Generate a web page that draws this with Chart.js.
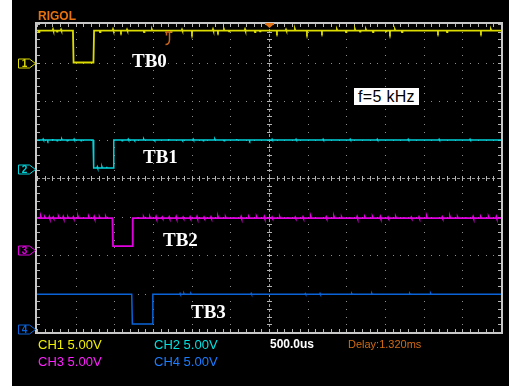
<!DOCTYPE html>
<html>
<head>
<meta charset="utf-8">
<title>RIGOL TB0-TB3</title>
<script src="https://cdn.jsdelivr.net/npm/chart.js@4.4.1/dist/chart.umd.min.js"></script>
<style>
  html, body { margin: 0; padding: 0; background: #fff; }
  #scope { position: relative; width: 509px; height: 388px; overflow: hidden; }
  #screen { position: absolute; left: 12px; top: 0; width: 497px; height: 386px; background: #000; }
  #screen canvas { display: block; }
  .lbl { position: absolute; white-space: nowrap; line-height: 1; }
  .ui { font-family: "Liberation Sans", Arial, sans-serif; }
  .tb { font-family: "Liberation Serif", "Times New Roman", serif; font-weight: bold; font-size: 19px; color: #fff; }
  #freq { left: 354px; top: 88px; width: 65px; height: 17px; background: #fff; color: #000;
          font-size: 16px; text-align: center; line-height: 17px; letter-spacing: 0.3px; }
</style>
</head>
<body>
<div id="scope">
  <div id="screen"><canvas id="scope-chart" width="497" height="386"></canvas></div>

  <div class="lbl ui" style="left:38px;top:9.5px;font-size:12px;font-weight:bold;color:#e8720e;">RIGOL</div>

  <div class="lbl tb" style="left:132px;top:51px;">TB0</div>
  <div class="lbl tb" style="left:143px;top:147px;">TB1</div>
  <div class="lbl tb" style="left:163px;top:230px;">TB2</div>
  <div class="lbl tb" style="left:191px;top:302px;">TB3</div>

  <div class="lbl ui" id="freq">f=5 kHz</div>

  <div class="lbl ui" style="left:38px;top:338px;font-size:13px;color:#f0f000;">CH1 5.00V</div>
  <div class="lbl ui" style="left:154px;top:338px;font-size:13px;color:#00e0e0;">CH2 5.00V</div>
  <div class="lbl ui" style="left:38px;top:355px;font-size:13px;color:#ff20ff;">CH3 5.00V</div>
  <div class="lbl ui" style="left:154px;top:355px;font-size:13px;color:#1a7cff;">CH4 5.00V</div>
  <div class="lbl ui" style="left:270px;top:338px;font-size:12px;font-weight:bold;color:#fff;">500.0us</div>
  <div class="lbl ui" style="left:348px;top:338.5px;font-size:11px;color:#d06a14;">Delay:1.320ms</div>
</div>

<script>
// Timebase: 500 us/div, 12 divisions, trigger at centre
const timeMin = -3000;
const timeMax = 3000;
const timeDiv = 500;

// Channels (5.00 V/div each)
const channelNames = ['CH1', 'CH2', 'CH3', 'CH4'];
const channelColors = ['#dcdc00', '#00d4dc', '#e000e0', '#0a64d8'];
const highLevel = [4.15, 3.75, 4.1, 4.55];   // V
const lowLevel = [0.0, 0.1, 0.45, 0.7];      // V
const pulseFall = [-2535, -2275, -2025, -1775]; // us
const pulseRise = [-2270, -2015, -1770, -1510]; // us

// Spikes riding on each trace: time (us) and excursion (V)
const ch1SpikeT = [-2974, -2793, -2741, -2689, -2185, -2017, -1914, -1836, -1616, -1513, -1267, -1125,
  -996, -724, -660, -582, -517, -310, -181, -116, 103, 220, 336, 491, 685, 879, 996, 1112, 1177,
  1254, 1345, 1513, 1564, 1629, 1720, 2185, 2302, 2741, 2870];
const ch1SpikeV = [-0.2, 0.15, -0.15, 0.12, -0.2, 0.15, -0.12, 0.12, -0.2, 0.12, -0.2, 0.12,
  -0.2, 0.15, -0.12, 0.15, -0.12, 0.15, -0.2, -0.12, -0.15, 0.12, 0.15, -0.2, -0.15, 0.12, -0.2, 0.15, -0.15,
  0.12, -0.2, -0.12, -0.2, 0.12, -0.2, -0.15, -0.2, -0.15, 0.12];
const ch2SpikeT = [-2920, -2860, -2800, -2740, -2680, -2610, -2520, -2430, -2220, -2160, -2100,
  -1900, -1820, -1740, -1620, -1480, -1300, -1120, -980, -850, -700, -580, -420, -250, 40, 350, 700,
  1050, 1400, 1800, 2200, 2600];
const ch2SpikeV = [0.1, -0.1, 0.1, -0.1, 0.1, -0.1, 0.1, -0.1, 0.15, 0.15, 0.15,
  -0.1, 0.1, -0.1, 0.1, -0.1, 0.1, -0.1, 0.1, -0.1, 0.1, -0.1, 0.1, -0.1, 0.08, 0.08, 0.08,
  0.08, 0.08, 0.08, 0.08, 0.08];
const ch3SpikeT = [-2950, -2900, -2840, -2790, -2720, -2660, -2600, -2530, -2470, -2400, -2330,
  -2260, -2190, -2110, -1700, -1620, -1540, -1460, -1380, -1290, -1200, -1110, -1020, -930, -840,
  -750, -660, -560, -460, -360, -260, -160, -60, 40, 140, 240, 340, 440, 540, 640, 740, 840, 940,
  1040, 1140, 1240, 1340, 1440, 1540, 1640, 1740, 1840, 1940, 2040, 2140, 2240, 2340, 2440, 2540,
  2640, 2740, 2840, 2940];
const ch3SpikeV = [0.15, 0.1, 0.15, 0.1, 0.12, 0.15, 0.1, 0.12, 0.15, 0.1, 0.12,
  0.15, 0.1, 0.12, 0.15, 0.1, 0.12, 0.15, 0.1, 0.12, 0.15, 0.1, 0.12, 0.15, 0.1,
  0.12, 0.15, 0.1, 0.12, 0.15, 0.1, 0.12, 0.15, 0.1, 0.12, 0.15, 0.1, 0.12, 0.15, 0.1, 0.12, 0.15, 0.1,
  0.12, 0.15, 0.1, 0.12, 0.15, 0.1, 0.12, 0.15, 0.1, 0.12, 0.15, 0.1, 0.12, 0.15, 0.1, 0.12,
  0.15, 0.1, 0.12, 0.15];
const ch4SpikeT = [-1150, -1100, -1010, -230, 470, 660, 820, 1070, 1330, 1820, 2090, 2710, 2850];
const ch4SpikeV = [0.1, 0.1, 0.08, 0.1, 0.08, 0.1, 0.08, 0.08, 0.1, 0.08, 0.1, 0.1, 0.08];

const spikeT = [ch1SpikeT, ch2SpikeT, ch3SpikeT, ch4SpikeT];
const spikeV = [ch1SpikeV, ch2SpikeV, ch3SpikeV, ch4SpikeV];

// Vertical position of each channel: top of screen in volts (8 div x 5 V visible)
const screenTopV = [5.0, 18.8, 29.3, 39.65];
const voltsPerDiv = 5;

function buildTrace(i) {
  const hi = highLevel[i], lo = lowLevel[i];
  const fall = pulseFall[i], rise = pulseRise[i];
  const level = t => (t > fall && t < rise) ? lo : hi;
  const pts = [
    { x: timeMin, y: hi },
    { x: fall, y: hi }, { x: fall + 8, y: lo },
    { x: rise, y: lo }, { x: rise + 8, y: hi },
    { x: timeMax, y: hi }
  ];
  spikeT[i].forEach((t, k) => {
    const base = level(t);
    pts.push({ x: t - 5, y: base }, { x: t, y: base + spikeV[i][k] }, { x: t + 5, y: base });
  });
  pts.sort((a, b) => a.x - b.x);
  return pts;
}

const datasets = channelNames.map((name, i) => ({
  label: name,
  data: buildTrace(i),
  yAxisID: 'y' + (i + 1),
  borderColor: channelColors[i],
  borderWidth: i === 0 ? 1.8 : (i === 2 ? 1.8 : 1.5),
  pointRadius: 0,
  tension: 0,
  fill: false
}));

const scales = {
  x: { type: 'linear', min: timeMin, max: timeMax, display: false }
};
channelNames.forEach((name, i) => {
  scales['y' + (i + 1)] = {
    type: 'linear', display: false,
    max: screenTopV[i], min: screenTopV[i] - 8 * voltsPerDiv
  };
});

// Graticule: border, dotted division lines, centre cross with minor ticks
const graticule = {
  id: 'graticule',
  beforeDatasetsDraw(chart) {
    const ctx = chart.ctx;
    const xs = chart.scales.x, ys = chart.scales.y1;
    const a = chart.chartArea;
    const minorX = timeDiv / 5;
    const minorY = voltsPerDiv / 5;
    ctx.save();

    // dotted grid on each division
    ctx.fillStyle = '#8c8c8c';
    for (let t = timeMin + timeDiv; t < timeMax; t += timeDiv) {
      if (t === 0) continue;
      const px = Math.round(xs.getPixelForValue(t));
      for (let v = ys.max; v >= ys.min; v -= minorY) {
        ctx.fillRect(px, Math.round(ys.getPixelForValue(v)), 1, 1);
      }
    }
    for (let d = 1; d < 8; d++) {
      if (d === 4) continue;
      const py = Math.round(ys.getPixelForValue(ys.max - d * voltsPerDiv));
      for (let t = timeMin; t <= timeMax; t += minorX) {
        ctx.fillRect(Math.round(xs.getPixelForValue(t)), py, 1, 1);
      }
    }

    // centre cross
    const cx = Math.round(xs.getPixelForValue(0));
    const cy = Math.round(ys.getPixelForValue(ys.max - 4 * voltsPerDiv));
    ctx.strokeStyle = '#9a9a9a';
    ctx.lineWidth = 1;
    ctx.setLineDash([3, 2]);
    ctx.beginPath();
    ctx.moveTo(cx + 0.5, a.top); ctx.lineTo(cx + 0.5, a.bottom);
    ctx.moveTo(a.left, cy + 0.5); ctx.lineTo(a.right, cy + 0.5);
    ctx.stroke();
    ctx.setLineDash([]);
    ctx.strokeStyle = '#b4b4b4';
    ctx.beginPath();
    for (let t = timeMin; t <= timeMax; t += minorX) {
      const px = Math.round(xs.getPixelForValue(t)) + 0.5;
      ctx.moveTo(px, cy - 2); ctx.lineTo(px, cy + 3);
      ctx.moveTo(px, a.top); ctx.lineTo(px, a.top + 3);
      ctx.moveTo(px, a.bottom); ctx.lineTo(px, a.bottom - 3);
    }
    for (let v = ys.max; v >= ys.min - 0.01; v -= minorY) {
      const py = Math.round(ys.getPixelForValue(v)) + 0.5;
      ctx.moveTo(cx - 2, py); ctx.lineTo(cx + 3, py);
      ctx.moveTo(a.left, py); ctx.lineTo(a.left + 3, py);
      ctx.moveTo(a.right, py); ctx.lineTo(a.right - 3, py);
    }
    ctx.stroke();

    // frame
    ctx.strokeStyle = '#c8c8c8';
    ctx.lineWidth = 2;
    ctx.strokeRect(a.left - 1, a.top - 1, a.right - a.left + 2, a.bottom - a.top + 2);
    ctx.restore();
  },
  afterDatasetsDraw(chart) {
    const ctx = chart.ctx;
    const xs = chart.scales.x;
    const a = chart.chartArea;
    ctx.save();

    // ground markers on the left edge
    ctx.font = 'bold 10px "Liberation Sans", Arial, sans-serif';
    ctx.textBaseline = 'middle';
    ctx.textAlign = 'center';
    channelNames.forEach((name, i) => {
      const y = Math.round(chart.scales['y' + (i + 1)].getPixelForValue(0)) + 0.5;
      const x0 = 6.5, x1 = 17.5, x2 = 23.5;
      ctx.strokeStyle = channelColors[i];
      ctx.lineWidth = 1;
      ctx.beginPath();
      ctx.moveTo(x0, y - 4.5); ctx.lineTo(x1, y - 4.5); ctx.lineTo(x2, y);
      ctx.lineTo(x1, y + 4.5); ctx.lineTo(x0, y + 4.5); ctx.closePath();
      ctx.stroke();
      ctx.fillStyle = channelColors[i];
      ctx.fillText(String(i + 1), 12.5, y + 0.5);
    });

    // trigger position marker on top of the frame
    const tx = Math.round(xs.getPixelForValue(0));
    ctx.fillStyle = '#e07418';
    ctx.fillRect(tx - 4, a.top - 1, 9, 2);
    ctx.beginPath();
    ctx.moveTo(tx - 3, a.top + 1); ctx.lineTo(tx + 4, a.top + 1); ctx.lineTo(tx + 0.5, a.top + 4);
    ctx.closePath(); ctx.fill();

    // trigger level marker
    const lx = Math.round(xs.getPixelForValue(-1300)) + 0.5;
    const ly = chart.scales.y1.getPixelForValue(3.25);
    ctx.strokeStyle = '#c8641a';
    ctx.lineWidth = 1.5;
    ctx.beginPath();
    ctx.moveTo(lx - 3.5, ly - 5.5); ctx.lineTo(lx + 3.5, ly - 5.5);
    ctx.moveTo(lx + 1, ly - 5.5); ctx.lineTo(lx + 1, ly + 2);
    ctx.quadraticCurveTo(lx + 1, ly + 7, lx - 3, ly + 7);
    ctx.moveTo(lx - 2, ly - 5.5); ctx.lineTo(lx - 2, ly - 2);
    ctx.stroke();
    ctx.restore();
  }
};

document.addEventListener('DOMContentLoaded', function() {
  const ctx = document.getElementById('scope-chart').getContext('2d');
  new Chart(ctx, {
    type: 'line',
    data: { datasets: datasets },
    options: {
      responsive: false,
      animation: false,
      parsing: false,
      layout: { padding: { left: 25, right: 8, top: 24, bottom: 54 } },
      scales: scales,
      plugins: { legend: { display: false }, tooltip: { enabled: false } }
    },
    plugins: [graticule]
  });
});
</script>
</body>
</html>
